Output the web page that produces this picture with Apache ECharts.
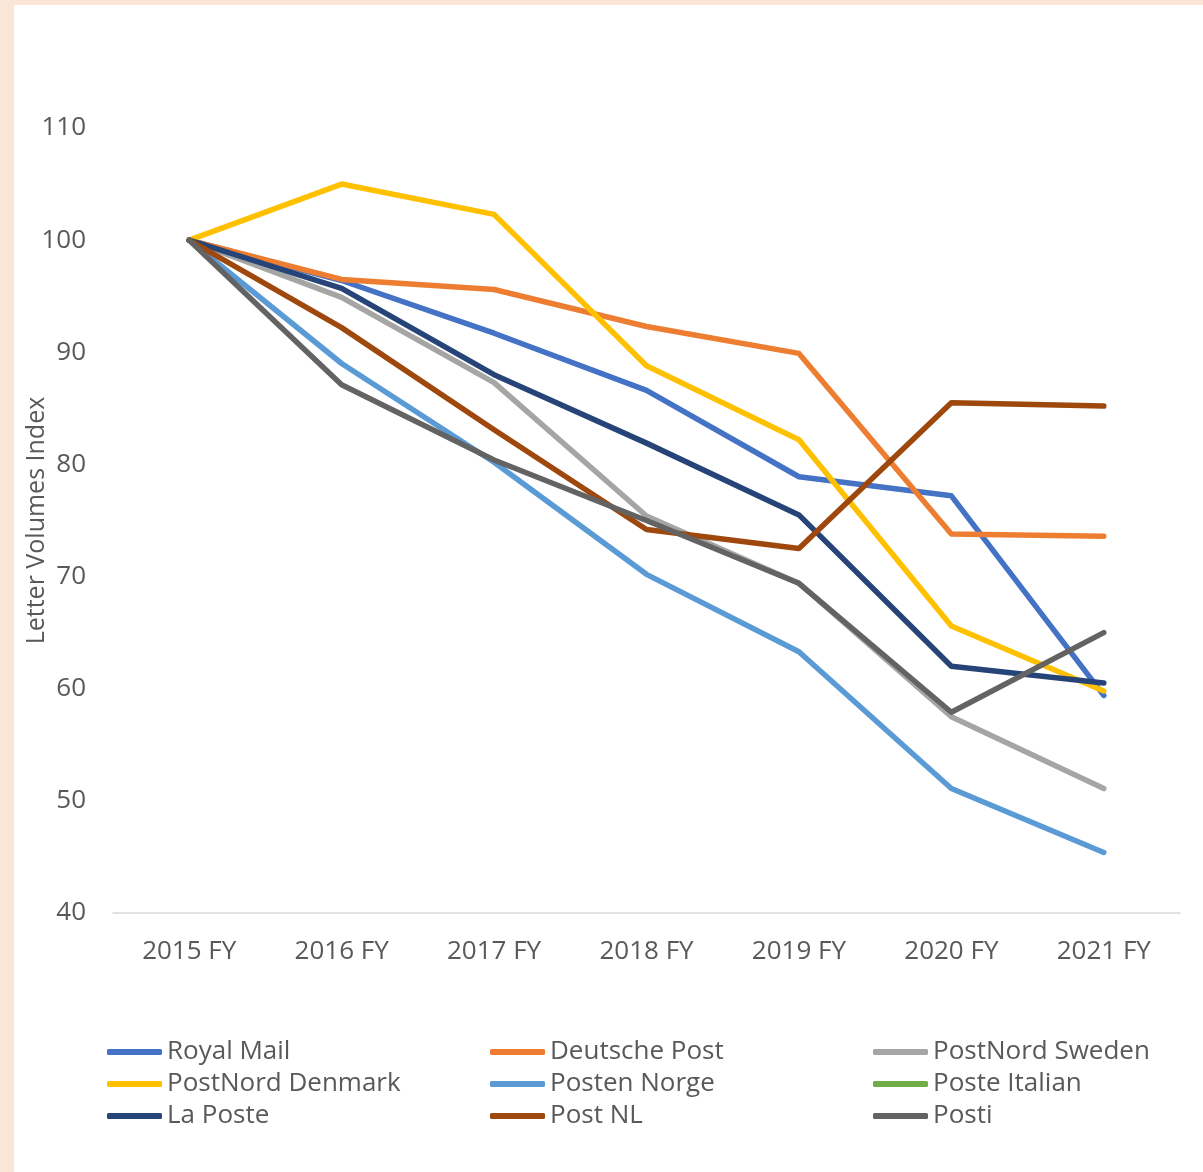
<!DOCTYPE html>
<html>
<head>
<meta charset="utf-8">
<script src="https://cdn.jsdelivr.net/npm/echarts@6/dist/echarts.min.js"></script>
<style>
  html, body { margin: 0; padding: 0; background: #FBE5D6; }
  #chart { position: absolute; left: 14px; top: 5px; width: 1189px; height: 1167px; background: #fff; }
</style>
</head>
<body>
<div id="chart"></div>
<script>
const years = ['2015 FY', '2016 FY', '2017 FY', '2018 FY', '2019 FY', '2020 FY', '2021 FY'];

const royalMail = [100, 96.4, 91.7, 86.6, 78.9, 77.2, 59.4];
const deutschePost = [100, 96.5, 95.6, 92.3, 89.9, 73.8, 73.6];
const postNordSweden = [100, 94.9, 87.3, 75.4, 69.4, 57.5, 51.1];
const postNordDenmark = [100, 105.0, 102.3, 88.8, 82.2, 65.6, 59.8];
const postenNorge = [100, 89.0, 80.2, 70.2, 63.3, 51.1, 45.4];
const posteItalian = [null, null, null, null, null, null, null]; // в легенді є, лінії немає
const laPoste = [100, 95.7, 88.0, 81.9, 75.5, 62.0, 60.5];
const postNL = [100, 92.2, 83.1, 74.2, 72.5, 85.5, 85.2];
const posti = [100, 87.1, 80.4, 75.0, 69.4, 57.9, 65.0];

const seriesNames = [
  'Royal Mail', 'Deutsche Post', 'PostNord Sweden',
  'PostNord Denmark', 'Posten Norge', 'Poste Italian',
  'La Poste', 'Post NL', 'Posti',
];
const seriesData = [
  royalMail, deutschePost, postNordSweden,
  postNordDenmark, postenNorge, posteItalian,
  laPoste, postNL, posti,
];
const colors = [
  '#4472C4', '#ED7D31', '#A5A5A5',
  '#FFC000', '#5B9BD5', '#70AD47',
  '#264478', '#9E480E', '#636363',
];

const font = 'Open Sans';
const textColor = '#595959';

// легенда у три колонки, як в Excel
const legendCol = (names, left) => ({
  orient: 'vertical',
  left: left,
  top: 1034,
  padding: 0,
  icon: 'roundRect',
  itemWidth: 55,
  itemHeight: 6,
  itemGap: 6,
  itemTextGap: 3,
  selectedMode: false,
  textStyle: { color: textColor, fontFamily: font, fontSize: 26, lineHeight: 24 },
  data: names,
});

const option = {
  animation: false,
  color: colors,
  grid: {
    left: 99,
    right: 23,
    top: 123,
    bottom: 259,
    outerBoundsMode: 'none',
    containLabel: false,
  },
  legend: [
    legendCol([seriesNames[0], seriesNames[3], seriesNames[6]], 93),
    legendCol([seriesNames[1], seriesNames[4], seriesNames[7]], 476),
    legendCol([seriesNames[2], seriesNames[5], seriesNames[8]], 859),
  ],
  xAxis: {
    type: 'category',
    data: years,
    boundaryGap: true,
    axisLine: { show: true, lineStyle: { color: '#D9D9D9', width: 1.5 } },
    axisTick: { show: false },
    axisLabel: { color: textColor, fontFamily: font, fontSize: 26, margin: 26 },
    splitLine: { show: false },
  },
  yAxis: {
    type: 'value',
    min: 40,
    max: 110,
    interval: 10,
    name: 'Letter Volumes Index',
    nameLocation: 'middle',
    nameGap: 64,
    nameMoveOverlap: false,
    nameTextStyle: { color: textColor, fontFamily: font, fontSize: 25 },
    axisLine: { show: false },
    axisTick: { show: false },
    axisLabel: { color: textColor, fontFamily: font, fontSize: 26, margin: 27 },
    splitLine: { show: false },
  },
  series: seriesNames.map((name, i) => ({
    name: name,
    type: 'line',
    data: seriesData[i],
    symbol: 'none',
    lineStyle: { width: 5.5, color: colors[i], cap: 'round', join: 'round' },
    itemStyle: { color: colors[i] },
  })),
};

const chart = echarts.init(document.getElementById('chart'));
chart.setOption(option);
</script>
</body>
</html>
